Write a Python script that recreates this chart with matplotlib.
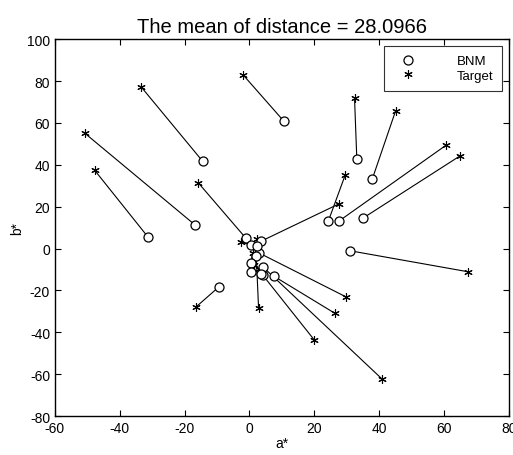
"""BNM vs target chromaticity (a*, b*) with matching lines."""

import matplotlib as mpl
import matplotlib.pyplot as plt

mpl.rcParams.update({"font.family": ["Liberation Sans", "DejaVu Sans"],
                     "axes.unicode_minus": False})

# BNM predicted points (a*, b*)
bnm_a = [10.5, -14.4, -16.9, -31.4, -1.2, 33.1, 37.9, 27.5, 35.1, 24.3,
         3.6, 31.1, 2.8, 7.5, 4.1, 4.1, -9.4, 2.1, 0.5, 2.3, 0.5, 0.5, 3.6]
bnm_b = [61.0, 41.6, 11.4, 5.7, 5.1, 42.9, 33.3, 13.0, 14.6, 13.0,
         3.5, -1.1, -2.0, -13.2, -12.7, -8.7, -18.3, -3.5, 1.6, 1.1, -6.7, -11.4, -12.0]
# Target points
target_a = [-2.0, -33.3, -50.8, -47.7, -15.8, 32.4, 45.1, 60.5, 64.8, 29.5,
            27.7, 67.4, 29.9, 26.4, 20.0, 40.8, -16.4, 2.8, -2.6, 2.3, 1.0, 1.5, 3.0]
target_b = [83.0, 77.0, 55.1, 37.3, 31.4, 71.8, 65.9, 49.2, 44.1, 35.0,
            21.4, -11.1, -23.2, -31.0, -43.7, -62.2, -27.8, -28.2, 3.2, 4.4, -2.0, -8.0, -10.0]

TITLE = "The mean of distance = 28.0966"

fig = plt.figure(figsize=(5.13, 4.56), dpi=100)
ax = fig.add_axes([0.107, 0.0855, 0.885, 0.8265])

for a1, b1, a2, b2 in zip(bnm_a, bnm_b, target_a, target_b):
    ax.plot([a1, a2], [b1, b2], color="black", lw=0.8, zorder=1)

ax.plot(bnm_a, bnm_b, linestyle="none", marker="o", markersize=6.5,
        markerfacecolor="white", markeredgecolor="black", markeredgewidth=0.9,
        label="BNM", zorder=3)
ax.plot(target_a, target_b, linestyle="none", marker=(6, 2, 0), markersize=6,
        color="black", markeredgewidth=0.8, label="Target", zorder=2)

ax.set_xlim(-60, 80)
ax.set_ylim(-80, 100)
ax.set_xticks(range(-60, 81, 20))
ax.set_yticks(range(-80, 101, 20))
ax.tick_params(direction="in", top=True, right=True, labelsize=10, length=4, width=0.8)
for s in ax.spines.values():
    s.set_linewidth(1.0)

ax.set_xlabel("a*", fontsize=10, labelpad=1)
ax.set_ylabel("b*", fontsize=10, labelpad=2)
ax.set_title(TITLE, fontsize=14.5, pad=5)

leg = ax.legend(loc="upper right", fontsize=9.5, frameon=True, fancybox=False,
                edgecolor="black", handlelength=2.2, handletextpad=2.6,
                borderpad=0.7, labelspacing=0.2, borderaxespad=0.5)
leg.get_frame().set_linewidth(0.8)

fig.savefig("out.png", dpi=100)
